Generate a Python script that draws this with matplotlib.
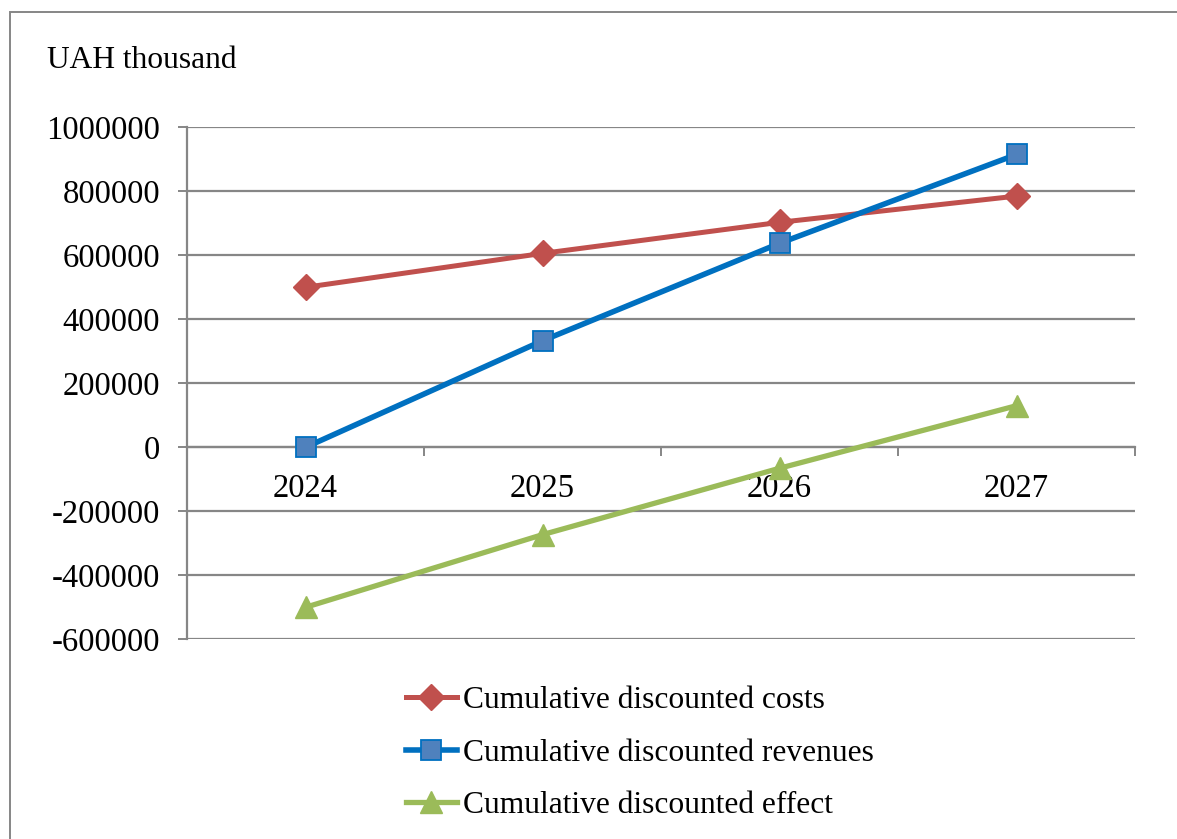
import numpy as np
import matplotlib.pyplot as plt
from matplotlib.patches import Rectangle

# Data (UAH thousand)
years = ["2024", "2025", "2026", "2027"]
costs = [500000, 606000, 703000, 785000]
revenues = [0, 333000, 637500, 915000]
effect = [-500000, -273000, -65500, 130000]

plt.rcParams['font.family'] = ['Liberation Serif', 'DejaVu Serif']
grid_color = "#868686"
fs = 22.7
tick_fs = 23.5

fig = plt.figure(figsize=(11.77, 8.39), dpi=100)

# Outer chart-area frame (runs off the right and bottom edges)
fig.patches.append(Rectangle((10 / 1177, -0.1), 1.2, 1 - 12 / 839 + 0.1,
                             transform=fig.transFigure, fill=False,
                             edgecolor=grid_color, linewidth=1.4))

ax = fig.add_axes([187 / 1177, 1 - 639.3 / 839, 948 / 1177, 512 / 839])

x = np.arange(len(years))
ax.plot(x, costs, color="#C0504D", lw=3.6, marker="D", markersize=13,
        markerfacecolor="#C0504D", markeredgecolor="#C0504D",
        label="Cumulative discounted costs", zorder=3)
ax.plot(x, revenues, color="#0070C0", lw=4.0, marker="s", markersize=14.5,
        markerfacecolor="#4F81BD", markeredgecolor="#0070C0", markeredgewidth=1.3,
        label="Cumulative discounted revenues", zorder=4)
ax.plot(x, effect, color="#9BBB59", lw=3.8, marker="^", markersize=16,
        markerfacecolor="#9BBB59", markeredgecolor="#9BBB59",
        label="Cumulative discounted effect", zorder=3)

ax.set_xlim(-0.5, 3.5)
ax.set_ylim(-600000, 1000000)
ax.set_yticks(np.arange(-600000, 1000001, 200000))
ax.yaxis.set_major_formatter(plt.FuncFormatter(lambda v, _: f"{v:.0f}"))
ax.grid(axis="y", color=grid_color, lw=1.6)
ax.set_axisbelow(True)

# category axis crosses at zero; tick marks between categories
ax.spines["bottom"].set_position(("data", 0))
ax.spines["bottom"].set_color(grid_color)
ax.spines["bottom"].set_linewidth(1.6)
ax.spines["left"].set_color(grid_color)
ax.spines["left"].set_linewidth(1.6)
ax.spines["top"].set_visible(False)
ax.spines["right"].set_visible(False)

ax.set_xticks(np.arange(-0.5, 3.6, 1.0))
ax.set_xticklabels([])
ax.set_xticks(x, minor=True)
ax.set_xticklabels(years, minor=True)
ax.tick_params(axis="x", which="major", direction="out", length=6.5,
               width=1.4, color=grid_color)
ax.tick_params(axis="x", which="minor", length=0, pad=19, labelsize=tick_fs)
ax.tick_params(axis="y", direction="out", length=6.5, width=1.4,
               color=grid_color, pad=13, labelsize=tick_fs)

fig.text(47 / 1177, 1 - 68 / 839, "UAH thousand", fontsize=fs,
         ha="left", va="baseline")

fig.legend(loc="center", bbox_to_anchor=(640 / 1177, 1 - 753 / 839),
           frameon=False, fontsize=fs, handlelength=1.6, handletextpad=0.2,
           labelspacing=0.75, borderpad=0, borderaxespad=0)

fig.savefig("out.png", dpi=100)
